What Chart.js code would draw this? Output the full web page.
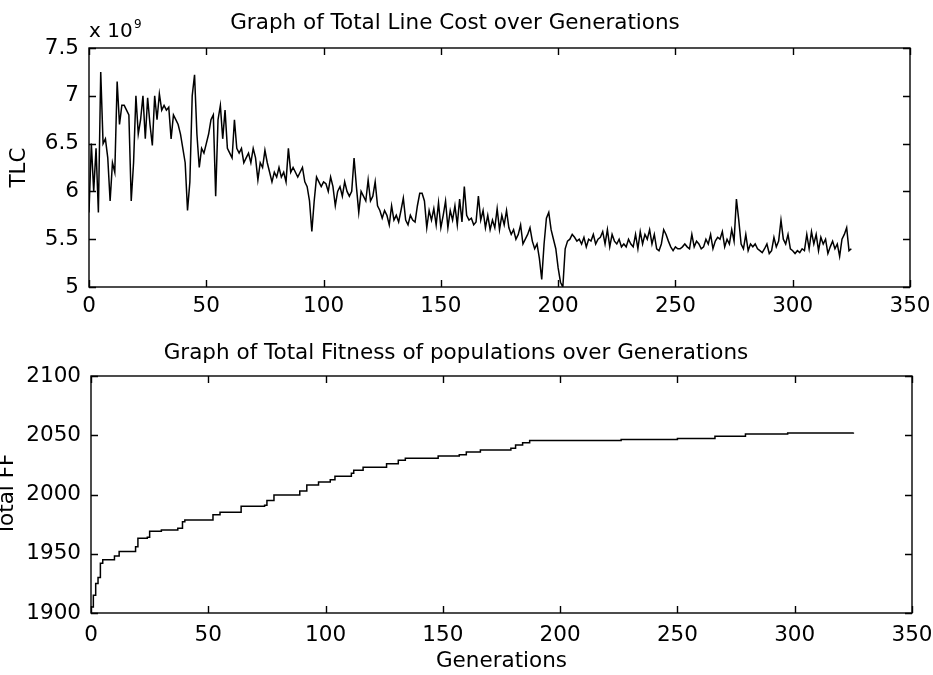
<!DOCTYPE html>
<html>
<head>
<meta charset="utf-8">
<script src="https://cdn.jsdelivr.net/npm/chart.js@4.4.1/dist/chart.umd.min.js"></script>
<style>
  html, body { margin: 0; padding: 0; background: #fff; }
  #page { position: relative; width: 933px; height: 675px; overflow: hidden; }
  .box { position: absolute; left: 0; width: 933px; }
</style>
</head>
<body>
<div id="page">
  <div class="box" style="top:0;height:330px"><canvas id="tlcChart"></canvas></div>
  <div class="box" style="top:330px;height:345px"><canvas id="ffChart"></canvas></div>
</div>
<script>
// Total line cost per generation (x 10^9)
const tlcValues = [
  5.78, 6.5, 6.0, 6.45, 5.78, 7.25, 6.5, 6.55, 6.35, 5.9,
  6.3, 6.2, 7.15, 6.7, 6.9, 6.9, 6.85, 6.8, 5.9, 6.3,
  7.0, 6.6, 6.75, 7.0, 6.55, 6.98, 6.7, 6.48, 7.0, 6.75,
  7.02, 6.85, 6.9, 6.85, 6.88, 6.55, 6.8, 6.75, 6.7, 6.6,
  6.45, 6.3, 5.8, 6.1, 7.0, 7.22, 6.6, 6.25, 6.45, 6.4,
  6.5, 6.6, 6.75, 6.8, 5.95, 6.75, 6.9, 6.55, 6.85, 6.45,
  6.4, 6.35, 6.75, 6.45, 6.4, 6.45, 6.3, 6.35, 6.4, 6.3,
  6.45, 6.35, 6.12, 6.3, 6.25, 6.43, 6.3, 6.2, 6.1, 6.2,
  6.15, 6.25, 6.15, 6.2, 6.1, 6.45, 6.2, 6.25, 6.2, 6.15,
  6.2, 6.25, 6.1, 6.05, 5.9, 5.58, 5.9, 6.15, 6.1, 6.05,
  6.1, 6.08, 6.0, 6.15, 6.05, 5.85, 6.0, 6.05, 5.95, 6.1,
  6.0, 5.95, 6.0, 6.35, 6.05, 5.78, 6.0, 5.95, 5.9, 6.12,
  5.9, 5.95, 6.1, 5.85, 5.8, 5.72, 5.8, 5.75, 5.65, 5.85,
  5.7, 5.75, 5.68, 5.8, 5.93, 5.7, 5.65, 5.75, 5.7, 5.68,
  5.85, 5.98, 5.98, 5.9, 5.62, 5.8, 5.7, 5.82, 5.65, 5.88,
  5.62, 5.75, 5.9, 5.62, 5.8, 5.7, 5.85, 5.65, 5.92, 5.68,
  6.05, 5.75, 5.7, 5.72, 5.65, 5.68, 5.95, 5.7, 5.8, 5.62,
  5.75, 5.6, 5.7, 5.62, 5.82, 5.6, 5.75, 5.65, 5.8, 5.62,
  5.55, 5.6, 5.5, 5.55, 5.65, 5.45, 5.5, 5.55, 5.62, 5.48,
  5.4, 5.45, 5.3, 5.08, 5.45, 5.72, 5.78, 5.6, 5.5, 5.4,
  5.2, 5.05, 5.0, 5.4, 5.48, 5.5, 5.55, 5.52, 5.48, 5.5,
  5.45, 5.52, 5.42, 5.5, 5.48, 5.55, 5.45, 5.5, 5.52, 5.58,
  5.45, 5.6, 5.42, 5.55, 5.48, 5.45, 5.5, 5.42, 5.45, 5.42,
  5.5, 5.45, 5.42, 5.55, 5.4, 5.58, 5.45, 5.55, 5.5, 5.6,
  5.45, 5.55, 5.4, 5.38, 5.45, 5.6, 5.55, 5.48, 5.42, 5.38,
  5.42, 5.4, 5.4, 5.42, 5.45, 5.42, 5.4, 5.55, 5.42, 5.48,
  5.45, 5.4, 5.42, 5.5, 5.45, 5.55, 5.4, 5.48, 5.52, 5.5,
  5.58, 5.42, 5.5, 5.45, 5.6, 5.48, 5.92, 5.7, 5.45, 5.4,
  5.55, 5.38, 5.45, 5.42, 5.45, 5.4, 5.38, 5.36, 5.4, 5.45,
  5.35, 5.38, 5.52, 5.42, 5.48, 5.7, 5.5, 5.45, 5.55, 5.4,
  5.38, 5.35, 5.38, 5.36, 5.4, 5.38, 5.55, 5.4, 5.58, 5.45,
  5.55, 5.38, 5.52, 5.45, 5.5, 5.35, 5.42, 5.48, 5.4, 5.45,
  5.32, 5.5, 5.55, 5.62, 5.38, 5.4
];
const tlcGenerations = tlcValues.map((v, i) => i);

// Total fitness: generations where the step changes, and the level reached there
const ffGenerations = [
  0, 1, 2, 3, 4, 5, 10, 12, 19, 20, 24, 25, 30, 37, 39, 40,
  52, 55, 64, 74, 75, 78, 89, 92, 97, 102, 104, 111, 112, 116,
  126, 131, 134, 148, 157, 160, 166, 179, 181, 184, 187, 226,
  250, 266, 279, 297, 325
];
const ffValues = [
  1905, 1915, 1925, 1930, 1942, 1945, 1948, 1952, 1956, 1963, 1964, 1969, 1970, 1971.5, 1977, 1978.5,
  1983, 1985, 1990, 1991, 1995, 1999.5, 2003, 2008, 2010.5, 2012.5, 2015.5, 2018, 2020.5, 2023,
  2026, 2029, 2030.5, 2032.5, 2033.5, 2035.8, 2037.5, 2039, 2041.7, 2043.6, 2045.5, 2046.5,
  2047.3, 2049.2, 2051, 2052, 2052.3
];

const xTicks = [0, 50, 100, 150, 200, 250, 300, 350];
const tlcTicks = [5, 5.5, 6, 6.5, 7, 7.5];
const ffTicks = [1900, 1950, 2000, 2050, 2100];

const FONT = 'DejaVu Sans';
const FSIZE = 21.5;
Chart.defaults.font.family = FONT;
Chart.defaults.color = '#000';

// matlab style box with inward tick marks on all four sides
const boxTicks = {
    id: 'boxTicks',
    afterDraw(chart) {
        const { ctx, chartArea: a, scales: { x, y } } = chart;
        const len = 7;
        ctx.save();
        ctx.strokeStyle = '#000';
        ctx.lineWidth = 1.4;
        ctx.strokeRect(a.left, a.top, a.right - a.left, a.bottom - a.top);
        ctx.beginPath();
        x.ticks.forEach(t => {
            const px = Math.round(x.getPixelForValue(t.value)) + 0.5;
            ctx.moveTo(px, a.bottom); ctx.lineTo(px, a.bottom - len);
            ctx.moveTo(px, a.top); ctx.lineTo(px, a.top + len);
        });
        y.ticks.forEach(t => {
            const py = Math.round(y.getPixelForValue(t.value)) + 0.5;
            ctx.moveTo(a.left, py); ctx.lineTo(a.left + len, py);
            ctx.moveTo(a.right, py); ctx.lineTo(a.right - len, py);
        });
        ctx.stroke();
        ctx.restore();
    }
};

// the "x 10^9" exponent label above the TLC axis
const exponentLabel = {
    id: 'exponentLabel',
    afterDraw(chart) {
        const ctx = chart.ctx;
        ctx.save();
        ctx.fillStyle = '#000';
        ctx.textBaseline = 'alphabetic';
        ctx.textAlign = 'left';
        ctx.font = '20px ' + FONT;
        ctx.fillText('x 10', 89, 37);
        ctx.font = '12px ' + FONT;
        ctx.fillText('9', 134, 28);
        ctx.restore();
    }
};

function axisOptions(min, max, tickList, fitSize, pad, title) {
    return {
        type: 'linear',
        min: min,
        max: max,
        afterBuildTicks: s => { s.ticks = tickList.map(v => ({ value: v })); },
        afterFit: s => {
            if (s.isHorizontal()) {
                s.height = fitSize;
                s.paddingLeft = 0;
                s.paddingRight = 0;
            } else {
                s.width = fitSize;
                s.paddingTop = 0;
                s.paddingBottom = 0;
            }
        },
        grid: { display: false, drawTicks: false },
        border: { display: false },
        ticks: {
            autoSkip: false,
            maxRotation: 0,
            padding: pad,
            font: { size: FSIZE },
            callback: v => String(v)
        },
        title: title
    };
}

function makeChart(id, points, stepped, yMin, yMax, yTickList, opts) {
    const ctx = document.getElementById(id).getContext('2d');
    return new Chart(ctx, {
        type: 'line',
        data: {
            datasets: [{
                data: points,
                borderColor: '#000',
                borderWidth: 1.5,
                pointRadius: 0,
                tension: 0,
                stepped: stepped
            }]
        },
        options: {
            responsive: true,
            maintainAspectRatio: false,
            animation: false,
            layout: { padding: opts.padding },
            plugins: {
                legend: { display: false },
                tooltip: { enabled: false },
                title: {
                    display: true,
                    text: opts.title,
                    color: '#000',
                    font: { size: FSIZE, weight: 'normal', lineHeight: 1.2 },
                    padding: opts.titlePad
                }
            },
            scales: {
                x: axisOptions(0, 350, xTicks, opts.xHeight, opts.xPad, opts.xTitle),
                y: axisOptions(yMin, yMax, yTickList, opts.yWidth, 10, opts.yTitle)
            }
        },
        plugins: opts.plugins
    });
}

makeChart('tlcChart',
    tlcGenerations.map((g, i) => ({ x: g, y: tlcValues[i] })),
    false, 5, 7.5, tlcTicks, {
        title: 'Graph of Total Line Cost over Generations',
        titlePad: { top: 11, bottom: 11.2 },
        padding: { left: 0, right: 23, top: 0, bottom: 0 },
        xHeight: 43, xPad: 7,
        yWidth: 89,
        xTitle: { display: false },
        yTitle: { display: true, text: 'TLC', font: { size: FSIZE, lineHeight: 1.2 }, padding: { top: 7 } },
        plugins: [boxTicks, exponentLabel]
    });

makeChart('ffChart',
    ffGenerations.map((g, i) => ({ x: g, y: ffValues[i] })),
    true, 1900, 2100, ffTicks, {
        title: 'Graph of Total Fitness of populations over Generations',
        titlePad: { top: 11, bottom: 9.2 },
        padding: { left: 0, right: 21, top: 0, bottom: 0 },
        xHeight: 62, xPad: 10,
        yWidth: 91,
        xTitle: { display: true, text: 'Generations', font: { size: FSIZE, lineHeight: 1.2 }, padding: { top: 0, bottom: 1 } },
        yTitle: { display: true, text: 'Total FF', font: { size: FSIZE, lineHeight: 0.7 }, padding: { top: 0 } },
        plugins: [boxTicks]
    });
</script>
</body>
</html>
